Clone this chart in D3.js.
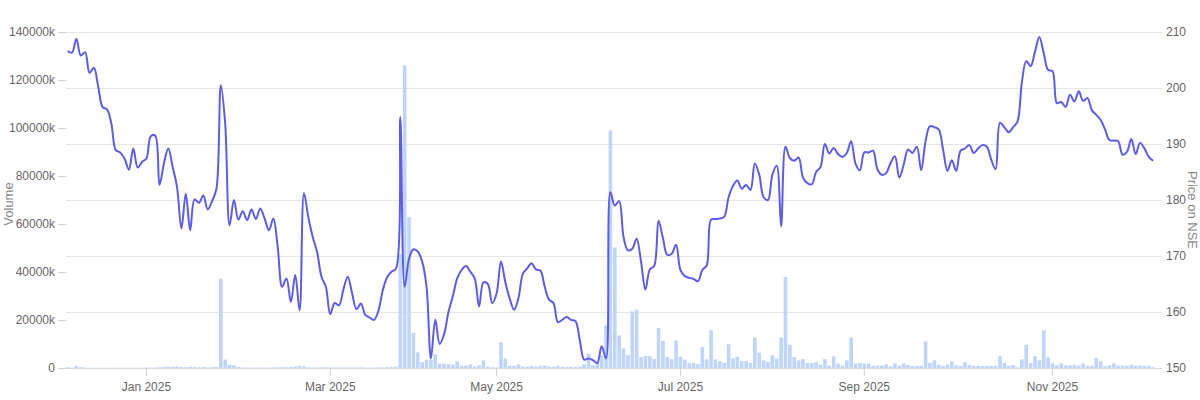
<!DOCTYPE html>
<html>
<head>
<meta charset="utf-8">
<script src="https://cdn.jsdelivr.net/npm/d3@7"></script>
<style>
  body { margin: 0; background: #fff; }
  text { font-family: "Liberation Sans", Arial, sans-serif; }
</style>
</head>
<body>
<div id="chart"></div>
<script>
// Daily NSE closing price, one point per trading day (Dec 2024 - Dec 2025)
const price = [
  206.6, 206.3, 208.8, 205.8, 206.4, 202.7, 203.6, 200.2, 196.6, 196.2,
  193.6, 188.9, 188.5, 187.4, 185.4, 189.2, 185.8, 186.8, 187.4, 191.4,
  191.5, 182.7, 186.5, 189.2, 185.9, 182.3, 174.9, 181.1, 174.6, 180.1,
  179.5, 180.8, 178.3, 179.8, 182.0, 200.5, 193.6, 175.5, 180.0, 176.5,
  178.0, 176.4, 178.3, 176.6, 178.5, 176.7, 174.6, 176.7, 171.6, 164.5,
  166.0, 161.8, 166.6, 160.3, 181.2, 176.9, 173.4, 170.7, 166.3, 164.5,
  159.6, 161.6, 161.2, 164.0, 166.3, 163.3, 160.5, 161.5, 159.5, 159.0,
  158.6, 160.2, 163.9, 166.2, 167.2, 167.7, 194.8, 164.5, 169.5, 171.2,
  170.8, 169.0, 164.5, 151.7, 158.6, 154.3, 156.0, 160.0, 162.8, 166.0,
  167.5, 168.2, 167.2, 166.0, 161.0, 165.3, 165.0, 161.6, 163.3, 169.0,
  165.3, 162.4, 160.4, 162.5, 166.8, 167.8, 168.7, 167.6, 167.4, 164.5,
  162.2, 161.6, 158.2, 158.6, 159.1, 158.6, 158.4, 155.0, 151.5, 151.7,
  151.4, 150.9, 153.9, 151.7, 181.4, 179.0, 179.8, 173.4, 171.0, 171.3,
  173.1, 169.0, 164.0, 167.6, 168.2, 176.3, 173.2, 170.2, 170.4, 172.0,
  167.5, 166.4, 166.1, 165.9, 165.5, 167.5, 168.3, 176.5, 176.6, 176.7,
  177.0, 180.5, 182.5, 183.5, 182.0, 182.7, 181.8, 186.5, 184.5, 180.5,
  180.0, 184.5, 186.1, 175.3, 189.5, 187.5, 187.0, 187.6, 184.0, 183.0,
  182.8, 185.0, 185.9, 190.0, 188.3, 189.3, 188.2, 187.7, 188.4, 190.5,
  186.5, 185.3, 188.5, 188.5, 188.8, 185.5, 184.5, 184.8, 186.6, 187.8,
  184.0, 186.3, 189.0, 188.4, 189.5, 185.3, 190.5, 193.2, 193.0, 192.6,
  189.0, 185.2, 187.1, 185.2, 188.8, 189.2, 189.8, 188.4, 189.2, 189.8,
  189.5, 187.2, 185.5, 193.8, 193.0, 192.1, 193.0, 194.0, 201.0, 204.8,
  203.9, 206.5, 209.1, 206.2, 203.2, 203.0, 197.3, 197.5, 196.6, 198.8,
  197.6, 199.4, 197.7, 198.2, 196.0, 195.2, 194.3, 192.6, 190.7, 190.6,
  190.5, 188.1, 188.6, 190.9, 188.2, 190.2, 189.2, 187.7, 187.0
];

// Daily traded volume, in thousands
const volume = [
  300, 200, 900, 400, 200, 150, 100, 150, 120, 100,
  80, 100, 120, 90, 100, 130, 110, 100, 150, 200,
  180, 300, 450, 600, 500, 700, 400, 350, 550, 450,
  300, 400, 250, 350, 500, 37200, 3500, 1300, 1100, 400,
  250, 200, 150, 200, 180, 150, 200, 250, 300, 400,
  350, 500, 600, 900, 700, 300, 250, 200, 300, 250,
  200, 250, 300, 200, 250, 300, 200, 250, 200, 150,
  200, 300, 250, 350, 400, 600, 47400, 126100, 62900, 14700,
  6500, 2500, 3500, 3500, 5700, 1800, 1800, 1600, 1400, 2800,
  1000, 1000, 1500, 600, 1100, 3200, 600, 300, 200, 10700,
  4000, 900, 900, 1500, 600, 600, 900, 600, 900, 1000,
  600, 600, 900, 500, 500, 500, 500, 600, 1500, 6000,
  1200, 2500, 5300, 17800, 99000, 50200, 13600, 8100, 5300, 23600,
  24300, 4600, 5000, 5000, 3700, 16700, 11300, 4700, 3700, 11500,
  4700, 3500, 2100, 2100, 1600, 8800, 3600, 15700, 3600, 2800,
  2200, 9900, 4000, 4700, 2900, 2900, 2100, 12700, 6400, 3200,
  2600, 5300, 4000, 12700, 37900, 9700, 4600, 3200, 3700, 2100,
  2100, 2400, 1400, 3700, 1000, 4900, 1800, 1000, 3200, 12700,
  1800, 2100, 1800, 1800, 900, 1000, 1000, 1500, 600, 1900,
  1000, 1900, 1300, 900, 900, 900, 11100, 2100, 3200, 1400,
  900, 1400, 2800, 1100, 900, 2400, 1300, 900, 900, 900,
  900, 900, 900, 4900, 2100, 900, 1300, 300, 3600, 9700,
  2100, 4900, 3200, 15700, 4400, 1900, 1100, 1900, 1100, 1100,
  1400, 1100, 1900, 900, 900, 4200, 2800, 800, 1100, 1900,
  1000, 1000, 900, 1400, 900, 1000, 900, 900, 300
];

// first trading day of each labelled month (index into the series)
const monthLabels = ["Jan 2025", "Mar 2025", "May 2025", "Jul 2025", "Sep 2025", "Nov 2025"];
const monthIndex = [18, 60, 98, 140, 182, 225];

const volumeTicks = [0, 20000, 40000, 60000, 80000, 100000, 120000, 140000];
const priceTicks = [150, 160, 170, 180, 190, 200, 210];

const margin = { top: 32, right: 38, bottom: 32, left: 66 };
const width = 1200 - margin.left - margin.right;
const height = 400 - margin.top - margin.bottom;

const svg = d3.select("#chart")
    .append("svg")
    .attr("width", 1200)
    .attr("height", 400);

const g = svg.append("g")
    .attr("transform", "translate(" + margin.left + "," + margin.top + ")");

const idx = d3.range(price.length);

const x = d3.scaleBand()
    .domain(idx)
    .range([-0.2, 1089])
    .paddingInner(0.17);
const cx = i => x(i) + x.bandwidth() / 2;

const yVol = d3.scaleLinear().domain([0, 140000]).range([height, 0]);
const yPrice = d3.scaleLinear().domain([150, 210]).range([height, 0]);

// gridlines (from the price axis)
g.append("g")
    .selectAll("line")
    .data(priceTicks)
    .enter()
    .append("line")
    .attr("x1", 0)
    .attr("x2", width)
    .attr("y1", d => Math.round(yPrice(d)) + 0.5)
    .attr("y2", d => Math.round(yPrice(d)) + 0.5)
    .attr("stroke", d => d === 150 ? "#d5d9e0" : "#e6e6e6");

// volume bars
g.selectAll(".bar")
    .data(volume)
    .enter()
    .append("rect")
    .attr("class", "bar")
    .attr("x", (d, i) => x(i))
    .attr("width", x.bandwidth())
    .attr("y", d => yVol(d))
    .attr("height", d => height - yVol(d))
    .attr("fill", "#c0d5fd");

// price line
const line = d3.line()
    .x((d, i) => cx(i))
    .y(d => yPrice(d))
    .curve(d3.curveCatmullRom.alpha(0.5));

g.append("path")
    .datum(price)
    .attr("fill", "none")
    .attr("stroke", "#5c5cf2")
    .attr("stroke-width", 2)
    .attr("stroke-linejoin", "round")
    .attr("d", line);

// left axis
const leftAxis = g.append("g")
    .call(d3.axisLeft(yVol)
        .tickValues(volumeTicks)
        .tickSize(8)
        .tickPadding(3)
        .tickFormat(d => d === 0 ? "0" : d + "k"));
leftAxis.select(".domain").remove();
leftAxis.selectAll("line").attr("stroke", "#d0d0d0");
leftAxis.selectAll("text").attr("fill", "#666").style("font-size", "12px");

// right axis
const rightAxis = g.append("g")
    .attr("transform", "translate(" + width + ",0)")
    .call(d3.axisRight(yPrice)
        .tickValues(priceTicks)
        .tickSize(0)
        .tickPadding(4));
rightAxis.select(".domain").remove();
rightAxis.selectAll("text").attr("fill", "#666").style("font-size", "12px");

// bottom axis
const bottomAxis = g.append("g")
    .attr("transform", "translate(0," + height + ")")
    .call(d3.axisBottom(x)
        .tickValues(monthIndex)
        .tickSize(8)
        .tickPadding(6)
        .tickFormat((d, i) => monthLabels[i]));
bottomAxis.select(".domain").remove();
bottomAxis.selectAll("line").attr("stroke", "#d0d0d0");
bottomAxis.selectAll("text").attr("fill", "#666").style("font-size", "12px");

// axis titles
svg.append("text")
    .attr("transform", "translate(13," + (margin.top + height / 2 + 4) + ") rotate(-90)")
    .attr("text-anchor", "middle")
    .attr("fill", "#888")
    .style("font-size", "13px")
    .text("Volume");

svg.append("text")
    .attr("transform", "translate(1188," + (margin.top + height / 2 + 10) + ") rotate(90)")
    .attr("text-anchor", "middle")
    .attr("fill", "#888")
    .style("font-size", "13px")
    .text("Price on NSE");
</script>
</body>
</html>
